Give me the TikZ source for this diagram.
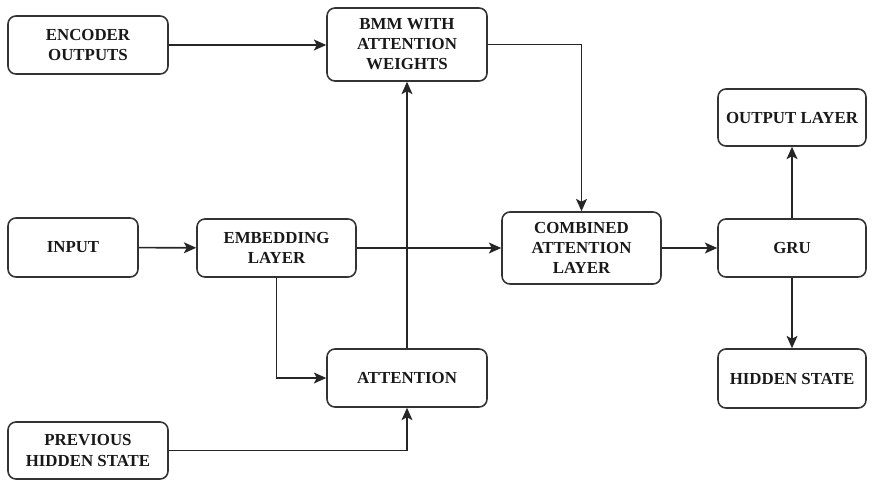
\documentclass[tikz,border=0pt]{standalone}
\usepackage{fontspec}
\setmainfont{Liberation Serif}
\usetikzlibrary{arrows.meta}
\begin{document}
\begin{tikzpicture}[x=0.02cm,y=-0.02cm,
    box/.style={draw=black!80, line width=0.9pt, rounded corners=4.5pt, align=center,
      inner sep=0pt, text=black!90, font=\bfseries\fontsize{9.6}{11.4}\selectfont},
    flow/.style={draw=black!85, line width=0.9pt, -{Stealth[length=7pt,width=6.2pt,inset=1.6pt]}}]
    \useasboundingbox (0,0) rectangle (874,480);

    % left column
    \node[box, minimum width=3.2cm, minimum height=1.16cm] (enc) at (88,45) {ENCODER\\OUTPUTS};
    \node[box, minimum width=2.6cm, minimum height=1.18cm] (input) at (73,247.5) {INPUT};
    \node[box, minimum width=3.2cm, minimum height=1.14cm] (prev) at (88,450.5) {PREVIOUS\\HIDDEN STATE};

    % middle
    \node[box, minimum width=3.2cm, minimum height=1.46cm] (bmm) at (407,44.5) {BMM WITH\\ATTENTION\\WEIGHTS};
    \node[box, minimum width=3.18cm, minimum height=1.16cm] (embed) at (276.5,248) {EMBEDDING\\LAYER};
    \node[box, minimum width=3.2cm, minimum height=1.16cm] (att) at (407,378) {ATTENTION};
    \node[box, minimum width=3.18cm, minimum height=1.44cm] (comb) at (581.5,248) {COMBINED\\ATTENTION\\LAYER};

    % right column
    \node[box, minimum width=2.96cm, minimum height=1.16cm] (gru) at (792,248) {GRU};
    \node[box, minimum width=2.96cm, minimum height=1.14cm] (outl) at (792,117.5) {OUTPUT LAYER};
    \node[box, minimum width=2.96cm, minimum height=1.18cm] (hid) at (792,378.5) {HIDDEN STATE};

    \draw[flow] (enc.east) -- (enc.east -| bmm.west);
    \draw[flow] (input) -- (embed);
    \draw[flow] (embed) -- (comb);
    \draw[flow] (embed.south) |- (att.west);
    \draw[flow] (att.north) -- (bmm.south);
    \draw[flow] (bmm.east) -| (comb.north);
    \draw[flow] (prev.east) -| (att.south);
    \draw[flow] (comb) -- (gru);
    \draw[flow] (gru) -- (outl);
    \draw[flow] (gru) -- (hid);
\end{tikzpicture}
\end{document}
